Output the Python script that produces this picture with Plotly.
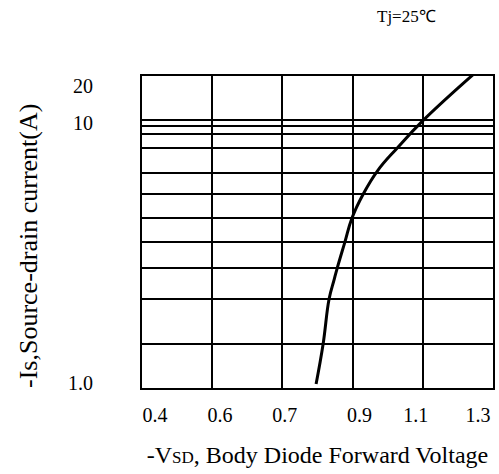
import plotly.graph_objects as go

# Curve (schematic axes)
vsd = [0.796, 0.816, 0.833, 0.847, 0.856, 0.878, 0.898, 0.930, 0.972, 1.026, 1.101, 1.245]
i_s = [1.035, 1.46, 2.15, 2.53, 2.80, 3.51, 4.31, 5.30, 6.51, 7.86, 10.0, 14.9]

# Grid lines (as drawn in the reference)
x_grid = [0.3, 0.5, 0.7, 0.9, 1.1, 1.3]
y_grid = [1.46, 2.15, 2.80, 3.51, 4.31, 5.30, 6.34, 7.86, 8.87, 9.50, 10.0]

# Tick labels as printed in the reference and where they sit
x_tick_pos = [0.337, 0.522, 0.707, 0.920, 1.080, 1.257]
x_tick_text = ["0.4", "0.6", "0.7", "0.9", "1.1", "1.3"]
y_tick_pos = [1.04, 9.76, 13.5]
y_tick_text = ["1.0", "10", "20"]

FONT = "Liberation Serif"

fig = go.Figure()
fig.add_trace(go.Scatter(x=vsd, y=i_s, mode="lines", cliponaxis=False,
                         line=dict(color="black", width=3, shape="spline", smoothing=1.2),
                         showlegend=False, hoverinfo="skip"))

fig.update_layout(
    width=499, height=474,
    margin=dict(l=142, r=6, t=76, b=86),
    paper_bgcolor="white", plot_bgcolor="white",
    font=dict(family=FONT, color="black", size=20),
    annotations=[
        dict(text="Tj=25\u2103", xref="paper", yref="paper",
             x=(406 - 142) / 351, y=1 + (76 - 16) / 312,
             xanchor="center", yanchor="middle",
             showarrow=False, font=dict(size=17, family=FONT)),
        dict(text="-Is,Source-drain current(A)", xref="paper", yref="paper",
             x=(28 - 142) / 351, y=(388 - 246) / 312, textangle=-90,
             xanchor="center", yanchor="middle",
             showarrow=False, font=dict(size=26, family=FONT)),
    ],
)

fig.update_xaxes(
    range=[0.3, 1.3], showgrid=False, zeroline=False, automargin=False,
    showline=True, mirror=True, linecolor="black", linewidth=2,
    tickmode="array", tickvals=x_tick_pos, ticktext=x_tick_text,
    ticks="", ticklabelstandoff=8, tickfont=dict(size=20),
    minor=dict(tickmode="array", tickvals=x_grid, showgrid=True,
               gridcolor="black", gridwidth=2, ticks=""),
    title=dict(text="-V<span style='font-size:17px'>SD</span>, Body Diode Forward Voltage",
               font=dict(size=24), standoff=21),
)
fig.update_yaxes(
    type="log", range=[0, 1.166], showgrid=False, zeroline=False, automargin=False,
    showline=True, mirror=True, linecolor="black", linewidth=2,
    tickmode="array", tickvals=y_tick_pos, ticktext=y_tick_text,
    ticks="", ticklabelstandoff=43, tickfont=dict(size=20),
    minor=dict(tickmode="array", tickvals=y_grid, showgrid=True,
               gridcolor="black", gridwidth=2, ticks=""),
)

fig.write_html("out.html")
